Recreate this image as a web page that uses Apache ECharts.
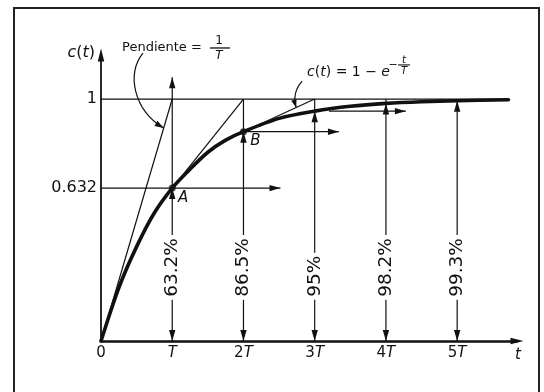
<!DOCTYPE html>
<html>
<head>
<meta charset="utf-8">
<script src="https://cdn.jsdelivr.net/npm/echarts@6/dist/echarts.min.js"></script>
<style>
  html, body { margin: 0; padding: 0; background: #fff; }
  #chart { width: 544px; height: 392px; }
</style>
</head>
<body>
<div id="chart"></div>
<script>
// First-order system step response: c(t) = 1 - e^(-t/T)

// time in multiples of the time constant T
const tMultiples = [1, 2, 3, 4, 5];
const tickLabels = ['0', 'T', '2T', '3T', '4T', '5T'];
// response reached at T, 2T, 3T, 4T, 5T
const responseAtT = [0.632, 0.865, 0.95, 0.982, 0.993];

// response curve samples
const curveT = [0, 0.25, 0.5, 0.75, 1, 1.25, 1.5, 1.75, 2, 2.5, 3, 3.5, 4, 4.5, 5, 5.72];
const curveC = [0, 0.22, 0.39, 0.53, 0.632, 0.71, 0.78, 0.83, 0.865, 0.92, 0.95, 0.97, 0.982, 0.989, 0.993, 0.997];

// tangent lines [t1, c1, t2, c2]
const tangents = [
  [0, 0, 1, 1],
  [1, 0.632, 2, 1],
  [2, 0.865, 3, 1]
];
// horizontal arrows [c, tFrom, tTo]
const levelArrows = [
  [0.632, 0, 2.52],
  [0.865, 2, 3.34],
  [0.95, 3.2, 4.28]
];
const finalValue = 1;
const unityLineEnd = 5.72;
const topArrowEnd = 1.09;

const INK = '#111';
const FONT = 'DejaVu Sans';
const LABEL_BASE = 0.17;   // where the rotated percentage labels start

const pct = v => (v * 100).toFixed(1).replace(/\.0$/, '') + '%';

// segments [t1, c1, t2, c2, arrowhead at end]
const segments = [];
segments.push([0, finalValue, unityLineEnd, finalValue, 0]);
tangents.forEach(s => segments.push([s[0], s[1], s[2], s[3], 0]));
levelArrows.forEach(a => segments.push([a[1], a[0], a[2], a[0], 1]));
tMultiples.forEach((t, i) => {
  const c = responseAtT[i];
  segments.push([t, LABEL_BASE, t, c, 1]);
  segments.push([t, LABEL_BASE, t, 0, 1]);
  if (i === 0) segments.push([t, c, t, topArrowEnd, 1]);
  else segments.push([t, c, t, finalValue, 0]);
});

function headPoints(tip, from, L, W) {
  const dx = tip[0] - from[0], dy = tip[1] - from[1];
  const len = Math.hypot(dx, dy) || 1;
  const ux = dx / len, uy = dy / len;
  const bx = tip[0] - ux * L, by = tip[1] - uy * L;
  return [[tip[0], tip[1]], [bx - uy * W, by + ux * W], [bx + uy * W, by - ux * W]];
}

const arrowSym = 'path://M3,0 L6,12 L0,12 Z';

const chart = echarts.init(document.getElementById('chart'), null, { renderer: 'canvas' });

chart.setOption({
  animation: false,
  backgroundColor: '#fff',
  grid: { left: 101, right: 27, top: 55, bottom: 51, outerBoundsMode: 'none', containLabel: false },
  xAxis: {
    type: 'value', min: 0, max: 5.84, interval: 1,
    axisLine: { show: true, onZero: false, lineStyle: { color: INK, width: 2.5 },
      symbol: ['none', arrowSym], symbolSize: [7, 13] },
    axisTick: { show: false },
    splitLine: { show: false },
    axisLabel: {
      color: INK, fontFamily: FONT, fontSize: 15, margin: 5,
      formatter: v => (Number.isInteger(v) && v < tickLabels.length)
        ? tickLabels[v].replace('T', '{i|T}') : '',
      rich: { i: { fontStyle: 'italic', fontFamily: FONT, fontSize: 15, color: INK } }
    }
  },
  yAxis: {
    type: 'value', min: 0, max: 1.182,
    axisLine: { show: true, onZero: false, lineStyle: { color: INK, width: 1.8 },
      symbol: ['none', arrowSym], symbolSize: [7, 13] },
    axisTick: { show: false },
    splitLine: { show: false },
    axisLabel: {
      customValues: [responseAtT[0], finalValue],
      formatter: v => String(v),
      color: INK, fontFamily: FONT, fontSize: 16, margin: 4
    }
  },
  series: [
    {
      type: 'line', name: 'c(t)', z: 3,
      data: curveT.map((t, i) => [t, curveC[i]]),
      smooth: 0.3,
      showSymbol: false, symbol: 'none',
      lineStyle: { color: INK, width: 3.6, join: 'round', cap: 'round' }
    },
    {
      type: 'custom', z: 2, clip: false,
      data: segments,
      encode: { x: [0, 2], y: [1, 3] },
      renderItem: (params, api) => {
        const p1 = api.coord([api.value(0), api.value(1)]);
        const p2 = api.coord([api.value(2), api.value(3)]);
        const children = [{
          type: 'line',
          shape: { x1: p1[0], y1: p1[1], x2: p2[0], y2: p2[1] },
          style: { stroke: INK, lineWidth: 1.2 }
        }];
        if (api.value(4)) {
          children.push({
            type: 'polygon',
            shape: { points: headPoints(p2, p1, 11, 3.2) },
            style: { fill: INK }
          });
        }
        return { type: 'group', children };
      }
    },
    {
      type: 'custom', z: 4, clip: false,
      data: tMultiples.map((t, i) => [t, responseAtT[i]]),
      encode: { x: 0, y: 1 },
      renderItem: (params, api) => {
        const p = api.coord([api.value(0), LABEL_BASE]);
        return {
          type: 'text', x: p[0], y: p[1], rotation: Math.PI / 2,
          style: {
            text: pct(api.value(1)), fill: INK, fontFamily: FONT, fontSize: 18.5,
            align: 'left', verticalAlign: 'middle',
            backgroundColor: '#fff', padding: [1, 3, 1, 3]
          }
        };
      }
    },
    {
      type: 'scatter', z: 5,
      data: [[1, responseAtT[0]], [2, responseAtT[1]]],
      symbol: 'circle', symbolSize: 7,
      itemStyle: { color: INK }
    }
  ]
});

// annotations
const px = (t, c) => chart.convertToPixel({ seriesIndex: 0 }, [t, c]);
const txt = (x, y, text, extra) => ({
  type: 'text', x, y, z: 10,
  style: Object.assign({ text, fill: INK, fontFamily: FONT, fontSize: 15,
    align: 'center', verticalAlign: 'middle' }, extra || {})
});
const italicRich = size => ({ i: { fontStyle: 'italic', fontFamily: FONT, fontSize: size, fill: INK } });

const yTop = px(0, 1.182);
const xEnd = px(5.84, 0);
const pA = px(1, responseAtT[0]);
const pB = px(2, responseAtT[1]);
const pend = px(0.295, 1.211);
const formula = px(2.893, 1.112);

const g = [];
// frame
g.push({ type: 'rect', z: 0, shape: { x: 14, y: 8, width: 525, height: 400 },
  style: { fill: 'none', stroke: '#222', lineWidth: 2 } });
// axis titles
g.push(txt(yTop[0] - 6, 53, '{i|c}({i|t})', { align: 'right', fontSize: 16, rich: italicRich(16) }));
g.push(txt(xEnd[0] + 1, xEnd[1] + 14, 't', { fontStyle: 'italic' }));
// point labels
g.push(txt(pA[0] + 11, pA[1] + 10, 'A', { fontStyle: 'italic' }));
g.push(txt(pB[0] + 12, pB[1] + 9, 'B', { fontStyle: 'italic' }));

// slope annotation
g.push(txt(pend[0], pend[1], 'Pendiente =', { align: 'left', fontSize: 13 }));
g.push(txt(pend[0] + 97, pend[1] - 7, '1', { fontSize: 12 }));
g.push({ type: 'line', z: 10, shape: { x1: pend[0] + 88, y1: pend[1], x2: pend[0] + 108, y2: pend[1] },
  style: { stroke: INK, lineWidth: 1.3 } });
g.push(txt(pend[0] + 97, pend[1] + 8, 'T', { fontSize: 12, fontStyle: 'italic' }));
{
  const s = px(0.59, 1.19), e = px(0.88, 0.88);
  const c1 = [s[0] - 17, s[1] + 20], c2 = [e[0] - 30, e[1] - 18];
  g.push({ type: 'bezierCurve', z: 10,
    shape: { x1: s[0], y1: s[1], cpx1: c1[0], cpy1: c1[1], cpx2: c2[0], cpy2: c2[1], x2: e[0], y2: e[1] },
    style: { stroke: INK, lineWidth: 1.2, fill: 'none' } });
  g.push({ type: 'polygon', z: 10, shape: { points: headPoints(e, c2, 9, 3) }, style: { fill: INK } });
}

// curve equation
g.push(txt(formula[0], formula[1], '{i|c}({i|t}) = 1 − {i|e}',
  { align: 'left', fontSize: 14, rich: italicRich(14) }));
g.push(txt(formula[0] + 86, formula[1] - 7, '−', { fontSize: 11 }));
g.push(txt(formula[0] + 97, formula[1] - 12, 't', { fontSize: 10, fontStyle: 'italic' }));
g.push({ type: 'line', z: 10, shape: { x1: formula[0] + 91, y1: formula[1] - 7, x2: formula[0] + 103, y2: formula[1] - 7 },
  style: { stroke: INK, lineWidth: 1.1 } });
g.push(txt(formula[0] + 97, formula[1] - 1, 'T', { fontSize: 10, fontStyle: 'italic' }));
{
  const s = px(2.823, 1.074), e = px(2.74, 0.965);
  const c1 = [s[0] - 7, s[1] + 8], c2 = [e[0] - 3, e[1] - 10];
  g.push({ type: 'bezierCurve', z: 10,
    shape: { x1: s[0], y1: s[1], cpx1: c1[0], cpy1: c1[1], cpx2: c2[0], cpy2: c2[1], x2: e[0], y2: e[1] },
    style: { stroke: INK, lineWidth: 1.2, fill: 'none' } });
  g.push({ type: 'polygon', z: 10, shape: { points: headPoints(e, c2, 8, 2.8) }, style: { fill: INK } });
}

chart.setOption({ graphic: g });
</script>
</body>
</html>
